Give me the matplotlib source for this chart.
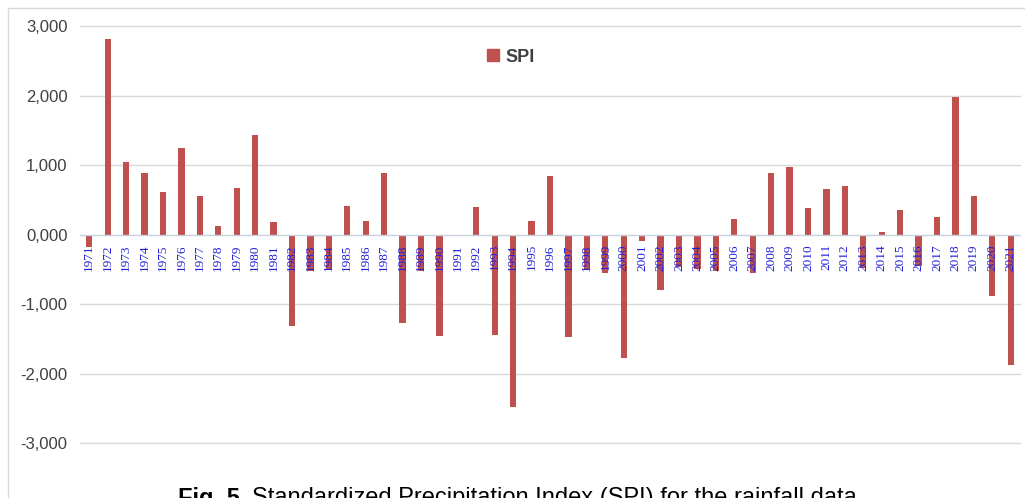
import matplotlib
matplotlib.use("Agg")
import matplotlib.pyplot as plt
from matplotlib.patches import Rectangle, Patch
from matplotlib.ticker import FuncFormatter

plt.rcParams['font.family'] = ['Liberation Sans', 'DejaVu Sans']

# SPI per year
years = ['1971', '1972', '1973', '1974', '1975', '1976', '1977', '1978', '1979', '1980',
         '1981', '1982', '1983', '1984', '1985', '1986', '1987', '1988', '1989', '1990',
         '1991', '1992', '1993', '1994', '1995', '1996', '1997', '1998', '1999', '2000',
         '2001', '2002', '2003', '2004', '2005', '2006', '2007', '2008', '2009', '2010',
         '2011', '2012', '2013', '2014', '2015', '2016', '2017', '2018', '2019', '2020',
         '2021']
spi = [-0.18, 2.81, 1.04, 0.88, 0.61, 1.25, 0.555, 0.125, 0.665, 1.435,
       0.186, -1.315, -0.52, -0.50, 0.416, 0.20, 0.885, -1.277, -0.53, -1.459,
       -0.02, 0.397, -1.44, -2.478, 0.20, 0.846, -1.474, -0.50, -0.55, -1.78,
       -0.096, -0.80, -0.47, -0.50, -0.52, 0.22, -0.55, 0.88, 0.97, 0.383,
       0.65, 0.70, -0.48, 0.04, 0.35, -0.46, 0.25, 1.985, 0.56, -0.885,
       -1.88]
yticks = [-3, -2, -1, 0, 1, 2, 3]

W, H = 1025, 498
fig = plt.figure(figsize=(W / 100, H / 100), dpi=100)
ax = fig.add_axes([80 / W, 1 - 443 / H, 940 / W, 417 / H])

# outer chart frame
fig.patches.append(Rectangle((8 / W, -0.1), 1.1, 1 - 8 / H + 0.1, transform=fig.transFigure,
                             fill=False, edgecolor='#d9d9d9', linewidth=1))

# zero axis first: set_position resets the ticks
for s in ['top', 'right', 'left']:
    ax.spines[s].set_visible(False)
ax.spines['bottom'].set_position(('data', 0))
ax.spines['bottom'].set_color('#c8d0dc')
ax.spines['bottom'].set_linewidth(1)

x = list(range(len(years)))
ax.bar(x, spi, width=0.34, color='#c0504d', zorder=1)

for t in yticks:
    if t != 0:
        ax.axhline(t, color='#d9d9d9', linewidth=1, zorder=0, clip_on=False)

ax.set_xlim(-0.5, len(years) - 0.5)
ax.set_ylim(-3, 3)
ax.set_yticks(yticks)
ax.yaxis.set_major_formatter(FuncFormatter(lambda v, p: '{:.3f}'.format(v).replace('.', ',')))
ax.tick_params(axis='y', length=0, pad=9, labelsize=12, labelcolor='#404040')

ax.set_xticks(x)
ax.set_xticklabels(years, rotation=90, va='top', ha='center',
                   family=['Liberation Serif', 'DejaVu Serif'], fontsize=9.5, color='#2020d8')
ax.tick_params(axis='x', length=0, pad=7)

leg = fig.legend(handles=[Patch(color='#c0504d', label='SPI')], loc='center',
                 bbox_to_anchor=(511 / W, 1 - 57 / H), frameon=False,
                 handlelength=0.65, handleheight=0.65, handletextpad=0.4,
                 prop={'size': 13, 'weight': 'bold'})
for t in leg.get_texts():
    t.set_color('#404040')

# caption, bold prefix then regular text
cy = 1 - 487 / H
t1 = fig.text(178 / W, cy, 'Fig. 5.', fontsize=17, fontweight='bold', va='top', color='black')
fig.canvas.draw()
bb = t1.get_window_extent()
fig.text(bb.x1 / W + 5 / W, cy, 'Standardized Precipitation Index (SPI) for the rainfall data',
         fontsize=17, va='top', color='black')

fig.savefig('out.png', dpi=100)
